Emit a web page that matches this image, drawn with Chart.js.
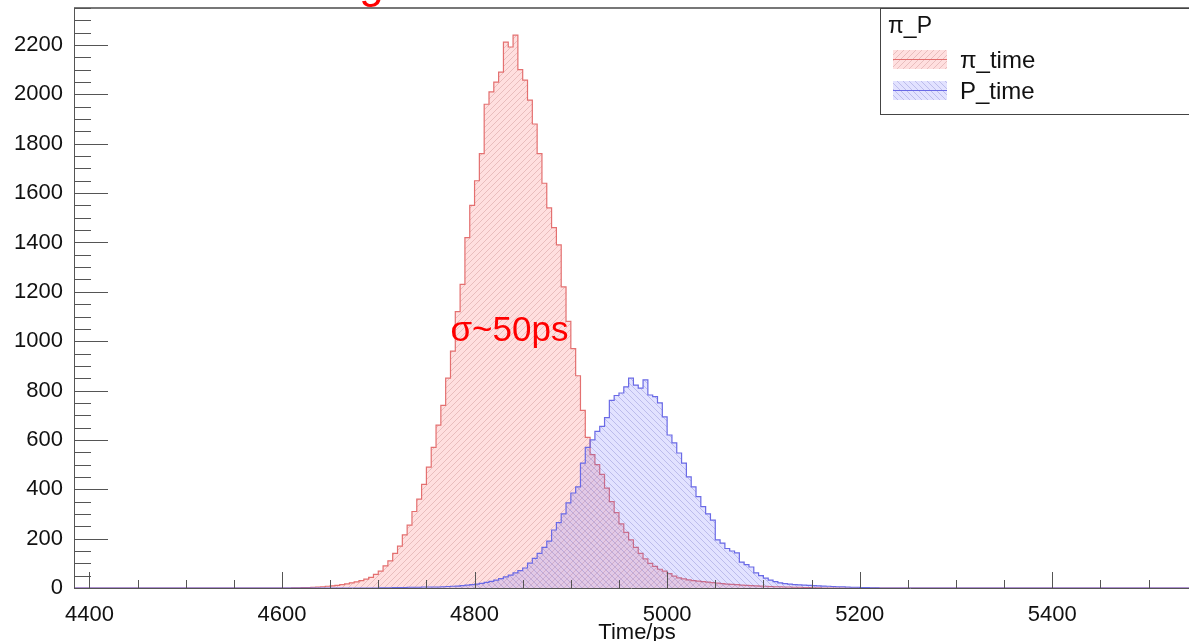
<!DOCTYPE html>
<html>
<head>
<meta charset="utf-8">
<script src="https://cdn.jsdelivr.net/npm/chart.js@4.4.1/dist/chart.umd.min.js"></script>
<style>
  html, body { margin: 0; padding: 0; background: #fff; }
  canvas { display: block; }
</style>
</head>
<body>
<canvas id="tof" width="1189" height="641"></canvas>
<script>
// histogram bins, 5 ps wide, counts
const binWidth = 5;
const piStart = 4610;
const piCounts = [
  1, 1, 2, 2, 3, 4, 5, 7, 9, 11,
  14, 17, 21, 25, 30, 36, 43, 55, 68, 90,
  110, 140, 170, 215, 255, 310, 360, 420, 490, 570,
  660, 740, 850, 960, 1120, 1230, 1420, 1550, 1650, 1760,
  1960, 2010, 2050, 2090, 2212, 2192, 2240, 2100, 2058, 1977,
  1880, 1760, 1640, 1540, 1460, 1390, 1220, 1080, 970, 860,
  720, 610, 540, 500, 460, 405, 350, 305, 260, 225,
  195, 165, 140, 118, 100, 88, 76, 68, 58, 48,
  41, 37, 33, 30, 28, 26, 24, 22, 20, 18,
  16, 15, 14, 12, 11, 10, 9, 8, 7, 6,
  5, 5, 4, 4, 3, 3, 2, 2, 1, 1
];
const pStart = 4700;
const pCounts = [
  1, 1, 1, 2, 2, 2, 3, 3, 3, 4,
  4, 4, 4, 5, 6, 7, 8, 10, 12, 14,
  16, 19, 23, 27, 32, 38, 45, 52, 61, 70,
  81, 101, 120, 140, 165, 190, 235, 265, 300, 345,
  385, 410, 506, 570, 600, 635, 655, 690, 760, 780,
  790, 815, 850, 822, 810, 843, 782, 775, 750, 693,
  620, 588, 547, 506, 450, 410, 370, 330, 300, 275,
  195, 182, 160, 150, 142, 105, 95, 85, 61, 50,
  40, 32, 26, 21, 18, 16, 14, 13, 12, 11,
  10, 9, 8, 7, 6, 5, 5, 4, 3, 3,
  2, 2, 1, 1
];
const xMin = 4384, xMax = 5542;
const yMax = 2350;
const xMajorTicks = [4400, 4600, 4800, 5000, 5200, 5400];
const yMajorTicks = [0, 200, 400, 600, 800, 1000, 1200, 1400, 1600, 1800, 2000, 2200];
const seriesNames = ['π_time', 'P_time'];
const legendHeader = 'π_P';
const note = 'σ~50ps';
const titleText = 'Single cell time resolution';
const axisTitle = 'Time/ps';

const FONT = '"Liberation Sans", Arial, sans-serif';

function histPoints(start, counts) {
  const pts = [{ x: xMin, y: 0 }];
  counts.forEach((c, i) => pts.push({ x: start + i * binWidth, y: c }));
  pts.push({ x: start + counts.length * binWidth, y: 0 });
  pts.push({ x: xMax, y: 0 });
  return pts;
}

function hatch(fill, line, dir) {
  const s = 6;
  const c = document.createElement('canvas');
  c.width = s; c.height = s;
  const g = c.getContext('2d');
  g.fillStyle = fill;
  g.fillRect(0, 0, s, s);
  g.strokeStyle = line;
  g.lineWidth = 0.8;
  g.beginPath();
  if (dir === '/') {
    g.moveTo(0, s); g.lineTo(s, 0);
    g.moveTo(-1, 1); g.lineTo(1, -1);
    g.moveTo(s - 1, s + 1); g.lineTo(s + 1, s - 1);
  } else {
    g.moveTo(0, 0); g.lineTo(s, s);
    g.moveTo(-1, s - 1); g.lineTo(1, s + 1);
    g.moveTo(s - 1, -1); g.lineTo(s + 1, 1);
  }
  g.stroke();
  return g.createPattern(c, 'repeat');
}

const piPattern = hatch('rgba(255,110,110,0.22)', 'rgba(170,90,90,0.32)', '/');
const pPattern = hatch('rgba(110,110,255,0.2)', 'rgba(80,80,180,0.32)', '\\');
const piLine = '#e47070';
const pLine = '#6a6ae6';

const rootFrame = {
  id: 'rootFrame',
  afterDraw(chart) {
    const { ctx, chartArea: a, scales: { x, y } } = chart;
    ctx.save();
    ctx.strokeStyle = '#555';
    ctx.lineWidth = 1;
    ctx.beginPath();
    ctx.moveTo(a.left + 0.5, a.bottom); ctx.lineTo(a.left + 0.5, a.top);
    ctx.moveTo(a.left, a.bottom + 0.5); ctx.lineTo(a.right, a.bottom + 0.5);
    ctx.stroke();
    ctx.strokeStyle = '#777';
    ctx.lineWidth = 2;
    ctx.beginPath();
    ctx.moveTo(a.left, a.top); ctx.lineTo(a.right, a.top);
    ctx.stroke();

    // ticks, ROOT style (inside the frame)
    ctx.strokeStyle = '#555';
    ctx.lineWidth = 1;
    ctx.beginPath();
    for (let v = 4400; v <= xMax; v += 50) {
      const px = Math.round(x.getPixelForValue(v)) + 0.5;
      const len = v % 200 === 0 ? 16 : 8;
      ctx.moveTo(px, a.bottom); ctx.lineTo(px, a.bottom - len);
    }
    for (let v = 0; v <= yMax; v += 50) {
      const py = Math.round(y.getPixelForValue(v)) + 0.5;
      const len = v % 200 === 0 ? 34 : 17;
      ctx.moveTo(a.left, py); ctx.lineTo(a.left + len, py);
    }
    ctx.stroke();

    // annotation
    ctx.fillStyle = '#ff0000';
    ctx.font = '35px ' + FONT;
    ctx.textBaseline = 'alphabetic';
    ctx.textAlign = 'left';
    ctx.fillText(note, x.getPixelForValue(4775), y.getPixelForValue(1000));

    // title, mostly cut off above the picture
    ctx.font = '44px ' + FONT;
    ctx.textAlign = 'center';
    ctx.fillText(titleText, 545, -2);

    // axis title
    ctx.fillStyle = '#111';
    ctx.font = '22px ' + FONT;
    ctx.fillText(axisTitle, 637, 639);

    // legend box
    const lx = 880, ly = 8, lw = 320, lh = 106;
    ctx.fillStyle = '#fff';
    ctx.fillRect(lx, ly, lw, lh);
    ctx.strokeStyle = '#444';
    ctx.lineWidth = 1;
    ctx.strokeRect(lx + 0.5, ly + 0.5, lw, lh);
    ctx.fillStyle = '#111';
    ctx.textAlign = 'left';
    ctx.font = '23px ' + FONT;
    ctx.fillText(legendHeader, 888, 33);
    const sw = [[piPattern, piLine], [pPattern, pLine]];
    sw.forEach((s, i) => {
      const top = 50 + i * 31;
      ctx.fillStyle = s[0];
      ctx.fillRect(893, top, 54, 19);
      ctx.strokeStyle = s[1];
      ctx.beginPath();
      ctx.moveTo(893, top + 9.5); ctx.lineTo(947, top + 9.5);
      ctx.stroke();
      ctx.fillStyle = '#111';
      ctx.font = '24px ' + FONT;
      ctx.fillText(seriesNames[i], 960, top + 18);
    });
    ctx.restore();
  }
};

Chart.defaults.font.family = FONT;
Chart.defaults.color = '#111';

new Chart(document.getElementById('tof'), {
  type: 'line',
  data: {
    datasets: [
      {
        label: seriesNames[0],
        data: histPoints(piStart, piCounts),
        stepped: true,
        fill: 'origin',
        backgroundColor: piPattern,
        borderColor: piLine,
        borderWidth: 1.2,
        pointRadius: 0,
        order: 2
      },
      {
        label: seriesNames[1],
        data: histPoints(pStart, pCounts),
        stepped: true,
        fill: 'origin',
        backgroundColor: pPattern,
        borderColor: pLine,
        borderWidth: 1.2,
        pointRadius: 0,
        order: 1
      }
    ]
  },
  options: {
    responsive: false,
    animation: false,
    events: [],
    layout: { padding: { top: 8, left: 0, right: 0, bottom: 0 } },
    plugins: { legend: { display: false }, tooltip: { enabled: false } },
    scales: {
      x: {
        type: 'linear',
        min: xMin,
        max: xMax,
        grid: { display: false, drawTicks: false },
        border: { display: false },
        afterBuildTicks: s => { s.ticks = xMajorTicks.map(v => ({ value: v })); },
        afterFit: s => { s.height = 53; s.paddingLeft = 0; s.paddingRight = 0; },
        ticks: {
          padding: 14,
          maxRotation: 0,
          autoSkip: false,
          font: { size: 22 },
          color: '#111',
          callback: v => String(v)
        }
      },
      y: {
        min: 0,
        max: yMax,
        grid: { display: false, drawTicks: false },
        border: { display: false },
        afterBuildTicks: s => { s.ticks = yMajorTicks.map(v => ({ value: v })); },
        afterFit: s => { s.width = 74; s.paddingTop = 0; s.paddingBottom = 0; },
        ticks: {
          padding: 11,
          autoSkip: false,
          font: { size: 22 },
          color: '#111',
          callback: v => String(v)
        }
      }
    }
  },
  plugins: [rootFrame]
});
</script>
</body>
</html>
